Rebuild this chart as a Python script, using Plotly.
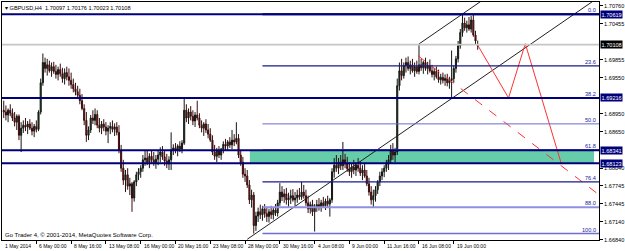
import plotly.graph_objects as go

# ---------------- data (GBPUSD H4, bars indexed from 1 May 2014 00:00) ----------------
bar_index = list(range(3, 222))

opens = [
    1.6901, 1.6898, 1.6893, 1.6901, 1.6896, 1.6888, 1.6881, 1.6891, 1.6859, 1.6871,
    1.6876, 1.6873, 1.6878, 1.6871, 1.6866, 1.6874, 1.6869, 1.6898, 1.6947, 1.6981,
    1.6971, 1.6977, 1.6967, 1.6974, 1.6966, 1.6961, 1.6969, 1.6962, 1.6954, 1.6964,
    1.6957, 1.6951, 1.6944, 1.6937, 1.6932, 1.6926, 1.6917, 1.6904, 1.6884, 1.6859,
    1.6868, 1.6888, 1.6884, 1.6894, 1.6876, 1.6871, 1.6878, 1.6873, 1.6866, 1.6871,
    1.6874, 1.6869, 1.6873, 1.6864, 1.6834, 1.6804, 1.6784, 1.6793, 1.6774, 1.6778,
    1.6754, 1.6781, 1.6793, 1.6798, 1.6804, 1.6818, 1.6821, 1.6814, 1.6824, 1.6818,
    1.6813, 1.6819, 1.6826, 1.6831, 1.6823, 1.6816, 1.6811, 1.6818, 1.6834, 1.6838,
    1.6834, 1.6841, 1.6836, 1.6846, 1.6901, 1.6888, 1.6898, 1.6891, 1.6883, 1.6893,
    1.6888, 1.6876, 1.6871, 1.6878, 1.6868, 1.6861, 1.6851, 1.6831, 1.6824, 1.6834,
    1.6826, 1.6836, 1.6844, 1.6841, 1.6848, 1.6843, 1.6851, 1.6848, 1.6854, 1.6826,
    1.6814, 1.6794, 1.6791, 1.6776, 1.6751, 1.6759, 1.6708, 1.6724, 1.6731, 1.6726,
    1.6736, 1.6728, 1.6723, 1.6731, 1.6726, 1.6734, 1.6729, 1.6746, 1.6764, 1.6756,
    1.6761, 1.6751, 1.6754, 1.6758, 1.6751, 1.6754, 1.6759, 1.6756, 1.6764, 1.6758,
    1.6746, 1.6736, 1.6743, 1.6731, 1.6739, 1.6743, 1.6738, 1.6746, 1.6741, 1.6749,
    1.6744, 1.6751, 1.6798, 1.6809, 1.6804, 1.6814, 1.6808, 1.6818, 1.6811, 1.6803,
    1.6798, 1.6806, 1.6801, 1.6809, 1.6804, 1.6796, 1.6801, 1.6791, 1.6778, 1.6764,
    1.6751, 1.6758, 1.6768, 1.6781, 1.6791, 1.6798, 1.6804, 1.6811, 1.6818, 1.6834,
    1.6826, 1.6831, 1.6942, 1.6967, 1.6959, 1.6976, 1.6981, 1.6971, 1.6977, 1.6967,
    1.6974, 1.6966, 1.6977, 1.6972, 1.6981, 1.6971, 1.6976, 1.6967, 1.6961, 1.6966,
    1.6957, 1.6952, 1.6956, 1.6951, 1.6954, 1.6947, 1.6951, 1.6954, 1.6971, 1.6987,
    1.7009, 1.7031, 1.7047, 1.7039, 1.7044, 1.7037, 1.7052, 1.7027, 1.70097,
]
highs = [
    1.6917, 1.6909, 1.6904, 1.6911, 1.6904, 1.6898, 1.6894, 1.6894, 1.6881, 1.6884,
    1.6888, 1.6883, 1.6886, 1.6881, 1.6878, 1.6884, 1.6901, 1.6954, 1.6996, 1.6989,
    1.6987, 1.6984, 1.6981, 1.6982, 1.6977, 1.6974, 1.6979, 1.6972, 1.6971, 1.6974,
    1.6971, 1.6964, 1.6954, 1.6947, 1.6942, 1.6937, 1.6928, 1.6911, 1.6898, 1.6874,
    1.6893, 1.6901, 1.6904, 1.6901, 1.6888, 1.6883, 1.6886, 1.6881, 1.6876, 1.6881,
    1.6884, 1.6879, 1.6881, 1.6876, 1.6843, 1.6818, 1.6801, 1.6804, 1.6788, 1.6781,
    1.6784, 1.6798, 1.6804, 1.6809, 1.6826, 1.6834, 1.6833, 1.6829, 1.6834, 1.6831,
    1.6826, 1.6834, 1.6839, 1.6841, 1.6834, 1.6828, 1.6824, 1.6864, 1.6844, 1.6846,
    1.6844, 1.6849, 1.6851, 1.6922, 1.6911, 1.6904, 1.6908, 1.6901, 1.6898, 1.6917,
    1.6896, 1.6884, 1.6881, 1.6886, 1.6878, 1.6871, 1.6859, 1.6843, 1.6838, 1.6841,
    1.6838, 1.6849, 1.6853, 1.6851, 1.6856, 1.6868, 1.6861, 1.6881, 1.6861, 1.6834,
    1.6823, 1.6804, 1.6801, 1.6784, 1.6768, 1.6764, 1.6731, 1.6738, 1.6743, 1.6741,
    1.6744, 1.6739, 1.6736, 1.6741, 1.6738, 1.6744, 1.6751, 1.6779, 1.6774, 1.6769,
    1.6771, 1.6763, 1.6768, 1.6769, 1.6764, 1.6768, 1.6771, 1.6781, 1.6776, 1.6768,
    1.6758, 1.6748, 1.6751, 1.6744, 1.6751, 1.6754, 1.6751, 1.6756, 1.6753, 1.6758,
    1.6754, 1.6804, 1.6821, 1.6826, 1.6821, 1.6826, 1.6848, 1.6828, 1.6823, 1.6814,
    1.6811, 1.6818, 1.6814, 1.6821, 1.6816, 1.6809, 1.6813, 1.6801, 1.6788, 1.6774,
    1.6768, 1.6774, 1.6784, 1.6798, 1.6804, 1.6809, 1.6818, 1.6826, 1.6843, 1.6846,
    1.6838, 1.6954, 1.6981, 1.6987, 1.6981, 1.6989, 1.6991, 1.6984, 1.6987, 1.6981,
    1.6984, 1.7012, 1.6987, 1.6984, 1.6989, 1.6982, 1.6986, 1.6977, 1.6972, 1.6974,
    1.6969, 1.6962, 1.6964, 1.6961, 1.6962, 1.6957, 1.7001, 1.6976, 1.6992, 1.7017,
    1.7037, 1.70619, 1.7056, 1.7051, 1.7057, 1.7059, 1.7061, 1.7034, 1.70176,
]
lows = [
    1.6888, 1.6884, 1.6881, 1.6891, 1.6883, 1.6874, 1.6868, 1.6851, 1.6831, 1.6863,
    1.6866, 1.6861, 1.6868, 1.6859, 1.6856, 1.6864, 1.6866, 1.6894, 1.6942, 1.6964,
    1.6959, 1.6964, 1.6957, 1.6962, 1.6954, 1.6951, 1.6957, 1.6947, 1.6944, 1.6951,
    1.6942, 1.6937, 1.6931, 1.6926, 1.6921, 1.6911, 1.6901, 1.6876, 1.6848, 1.6851,
    1.6863, 1.6878, 1.6876, 1.6871, 1.6864, 1.6861, 1.6866, 1.6859, 1.6846, 1.6861,
    1.6864, 1.6858, 1.6859, 1.6829, 1.6798, 1.6776, 1.6764, 1.6768, 1.6759, 1.6731,
    1.6748, 1.6774, 1.6784, 1.6788, 1.6798, 1.6808, 1.6809, 1.6804, 1.6811, 1.6808,
    1.6803, 1.6809, 1.6814, 1.6818, 1.6808, 1.6804, 1.6801, 1.6801, 1.6826, 1.6829,
    1.6824, 1.6831, 1.6829, 1.6843, 1.6881, 1.6878, 1.6884, 1.6876, 1.6873, 1.6884,
    1.6871, 1.6864, 1.6858, 1.6863, 1.6854, 1.6848, 1.6826, 1.6818, 1.6814, 1.6821,
    1.6818, 1.6829, 1.6834, 1.6833, 1.6838, 1.6836, 1.6841, 1.6844, 1.6821, 1.6808,
    1.6788, 1.6781, 1.6771, 1.6744, 1.6738, 1.66945, 1.6699, 1.6714, 1.6719, 1.6716,
    1.6721, 1.6714, 1.6713, 1.6719, 1.6718, 1.6724, 1.6723, 1.6741, 1.6749, 1.6746,
    1.6743, 1.6739, 1.6744, 1.6748, 1.6741, 1.6746, 1.6751, 1.6751, 1.6753, 1.6741,
    1.6729, 1.6728, 1.6724, 1.6698, 1.6731, 1.6733, 1.6731, 1.6738, 1.6734, 1.6739,
    1.6723, 1.6746, 1.6788, 1.6798, 1.6794, 1.6801, 1.6801, 1.6804, 1.6798, 1.6791,
    1.6788, 1.6794, 1.6791, 1.6798, 1.6791, 1.6784, 1.6788, 1.6774, 1.6758, 1.6743,
    1.6739, 1.6748, 1.6761, 1.6774, 1.6784, 1.6789, 1.6798, 1.6801, 1.6811, 1.6818,
    1.6814, 1.6826, 1.6934, 1.6951, 1.6954, 1.6964, 1.6967, 1.6961, 1.6964, 1.6957,
    1.6962, 1.6961, 1.6967, 1.6962, 1.6967, 1.6961, 1.6964, 1.6956, 1.6951, 1.6954,
    1.6947, 1.6944, 1.6946, 1.6942, 1.6941, 1.6937, 1.6922, 1.6947, 1.6964, 1.6981,
    1.7004, 1.7024, 1.7034, 1.7031, 1.7034, 1.7031, 1.7024, 1.7011, 1.70023,
]
closes = [
    1.6898, 1.6893, 1.6901, 1.6896, 1.6888, 1.6881, 1.6891, 1.6859, 1.6871, 1.6876,
    1.6873, 1.6878, 1.6871, 1.6866, 1.6874, 1.6869, 1.6898, 1.6947, 1.6981, 1.6971,
    1.6977, 1.6967, 1.6974, 1.6966, 1.6961, 1.6969, 1.6962, 1.6954, 1.6964, 1.6957,
    1.6951, 1.6944, 1.6937, 1.6932, 1.6926, 1.6917, 1.6904, 1.6884, 1.6859, 1.6868,
    1.6888, 1.6884, 1.6894, 1.6876, 1.6871, 1.6878, 1.6873, 1.6866, 1.6871, 1.6874,
    1.6869, 1.6873, 1.6864, 1.6834, 1.6804, 1.6784, 1.6793, 1.6774, 1.6778, 1.6754,
    1.6781, 1.6793, 1.6798, 1.6804, 1.6818, 1.6821, 1.6814, 1.6824, 1.6818, 1.6813,
    1.6819, 1.6826, 1.6831, 1.6823, 1.6816, 1.6811, 1.6818, 1.6834, 1.6838, 1.6834,
    1.6841, 1.6836, 1.6846, 1.6901, 1.6888, 1.6898, 1.6891, 1.6883, 1.6893, 1.6888,
    1.6876, 1.6871, 1.6878, 1.6868, 1.6861, 1.6851, 1.6831, 1.6824, 1.6834, 1.6826,
    1.6836, 1.6844, 1.6841, 1.6848, 1.6843, 1.6851, 1.6848, 1.6854, 1.6826, 1.6814,
    1.6794, 1.6791, 1.6776, 1.6751, 1.6759, 1.6708, 1.6724, 1.6731, 1.6726, 1.6736,
    1.6728, 1.6723, 1.6731, 1.6726, 1.6734, 1.6729, 1.6746, 1.6764, 1.6756, 1.6761,
    1.6751, 1.6754, 1.6758, 1.6751, 1.6754, 1.6759, 1.6756, 1.6764, 1.6758, 1.6746,
    1.6736, 1.6743, 1.6731, 1.6739, 1.6743, 1.6738, 1.6746, 1.6741, 1.6749, 1.6744,
    1.6751, 1.6798, 1.6809, 1.6804, 1.6814, 1.6808, 1.6818, 1.6811, 1.6803, 1.6798,
    1.6806, 1.6801, 1.6809, 1.6804, 1.6796, 1.6801, 1.6791, 1.6778, 1.6764, 1.6751,
    1.6758, 1.6768, 1.6781, 1.6791, 1.6798, 1.6804, 1.6811, 1.6818, 1.6834, 1.6826,
    1.6831, 1.6942, 1.6967, 1.6959, 1.6976, 1.6981, 1.6971, 1.6977, 1.6967, 1.6974,
    1.6966, 1.6977, 1.6972, 1.6981, 1.6971, 1.6976, 1.6967, 1.6961, 1.6966, 1.6957,
    1.6952, 1.6956, 1.6951, 1.6954, 1.6947, 1.6951, 1.6954, 1.6971, 1.6987, 1.7009,
    1.7031, 1.7047, 1.7039, 1.7044, 1.7037, 1.7052, 1.7027, 1.7017, 1.70108,
]

title_text = "GBPUSD,H4  1.70097 1.70176 1.70023 1.70108"
copyright_text = "Go Trader 4, \u00a9 2001-2014, MetaQuotes Software Corp."

x_first_label = "1 May 2014"
x_tick_index = [18, 34, 50, 66, 82, 98, 114, 130, 146, 162, 178, 194, 210]
x_tick_text = ["6 May 00:00", "8 May 16:00", "13 May 08:00", "16 May 00:00",
               "20 May 16:00", "23 May 08:00", "28 May 00:00", "30 May 16:00",
               "4 Jun 08:00", "9 Jun 00:00", "11 Jun 16:00", "16 Jun 08:00",
               "19 Jun 00:00"]
y_tick_vals = [1.70760, 1.70455, 1.69855, 1.69550, 1.68950, 1.68650,
               1.68040, 1.67745, 1.67445, 1.67140, 1.66840]

# horizontal support / resistance lines (full width) and their price tags
hline_prices = [1.70619, 1.69216, 1.68341, 1.68123]
bid_price = 1.70108

# Fibonacci retracement (from swing high to swing low)
fib_high = 1.70619
fib_low = 1.66945
fib_start_bar = 122
fib_levels = [0.0, 23.6, 38.2, 50.0, 61.8, 76.4, 88.0, 100.0]
fib_colors = ["#00007a", "#1a1a8a", "#00007a", "#6a6ad2", "#8c8ce0",
              "#1a1a8a", "#9090e0", "#6e6ed4"]
fib_widths = [2, 1.3, 2, 1, 1.5, 1.3, 2, 1.5]

# demand zone rectangle
zone_x = [116.2, 274.5]
zone_y = [1.68123, 1.68341]

# channel (two parallel rays)
channel_low_x = [115.0, 280.0]
channel_low_y = [1.66850, 1.70985]
channel_up_x = [194.0, 230.0]
channel_up_y = [1.70120, 1.71022]

# projected path (solid red) and dashed red ray
proj_x = [221.0, 235.2, 242.9, 259.4]
proj_y = [1.70100, 1.69216, 1.70124, 1.68123]
dash_x = [193.5, 280.0]
dash_y = [1.69924, 1.67505]

# ---------------- figure ----------------
FONT = "Liberation Sans"
FS = 5.6
FSX = 5.0
x_range = [2.2, 276.8]
y_range = [1.66838, 1.70822]

fig = go.Figure()

fig.add_shape(type="rect", xref="x", yref="y", x0=zone_x[0], x1=zone_x[1],
              y0=zone_y[0], y1=zone_y[1], fillcolor="#66cdaa",
              line=dict(width=0), layer="below")

fig.add_trace(go.Candlestick(
    x=bar_index, open=opens, high=highs, low=lows, close=closes,
    increasing=dict(line=dict(color="#151515", width=1), fillcolor="#0f5a0f"),
    decreasing=dict(line=dict(color="#3a0c0c", width=1), fillcolor="#8b1a1a"),
    whiskerwidth=0, hoverinfo="skip", showlegend=False))

# bid line
fig.add_shape(type="line", xref="paper", yref="y", x0=0, x1=1,
              y0=bid_price, y1=bid_price, line=dict(color="#c6c6c6", width=1.6))

# fib lines
fib_range = fib_high - fib_low
for lvl, col, w in zip(fib_levels, fib_colors, fib_widths):
    p = fib_high - lvl / 100.0 * fib_range
    fig.add_shape(type="line", xref="x", yref="y", x0=fib_start_bar, x1=x_range[1],
                  y0=p, y1=p, line=dict(color=col, width=w))
    fig.add_annotation(x=1, xref="paper", y=p, yref="y", text=f"{lvl:.1f}",
                       showarrow=False, xanchor="right", yanchor="bottom",
                       xshift=-1, yshift=-1,
                       font=dict(family=FONT, size=FS, color="#20209a"))

# full-width horizontal lines
for p in hline_prices:
    fig.add_shape(type="line", xref="paper", yref="y", x0=0, x1=1,
                  y0=p, y1=p, line=dict(color="#00007a", width=2))

# channel lines
fig.add_trace(go.Scatter(x=channel_low_x, y=channel_low_y, mode="lines",
                         line=dict(color="#202020", width=1), hoverinfo="skip"))
fig.add_trace(go.Scatter(x=channel_up_x, y=channel_up_y, mode="lines",
                         line=dict(color="#202020", width=1), hoverinfo="skip"))
# red projections
fig.add_trace(go.Scatter(x=proj_x, y=proj_y, mode="lines",
                         line=dict(color="#ff3030", width=1), hoverinfo="skip"))
fig.add_trace(go.Scatter(x=dash_x, y=dash_y, mode="lines",
                         line=dict(color="#ff3030", width=1, dash="dash"),
                         hoverinfo="skip"))

# price tags on right axis
for p in hline_prices:
    fig.add_annotation(x=1, xref="paper", y=p, yref="y", text=f"{p:.5f}",
                       showarrow=False, xanchor="left", yanchor="middle", xshift=1,
                       bgcolor="#00007a", borderpad=0.5,
                       font=dict(family=FONT, size=FS, color="white"))
fig.add_annotation(x=1, xref="paper", y=bid_price, yref="y", text=f"{bid_price:.5f}",
                   showarrow=False, xanchor="left", yanchor="middle", xshift=1,
                   bgcolor="#000000", borderpad=0.5,
                   font=dict(family=FONT, size=FS, color="white"))

# x labels (left anchored at tick)
fig.add_annotation(x=0, xref="paper", y=0, yref="paper", text=x_first_label,
                   showarrow=False, xanchor="left", yanchor="top", xshift=1, yshift=-1,
                   font=dict(family=FONT, size=FSX, color="black"))
for xi, t in zip(x_tick_index, x_tick_text):
    fig.add_annotation(x=xi, xref="x", y=0, yref="paper", text=t,
                       showarrow=False, xanchor="left", yanchor="top", xshift=1, yshift=-1,
                       font=dict(family=FONT, size=FSX, color="black"))

# title and copyright
fig.add_annotation(x=0, xref="paper", y=1, yref="paper", text="\u25be " + title_text,
                   showarrow=False, xanchor="left", yanchor="top", xshift=1, yshift=-1,
                   font=dict(family=FONT, size=FS, color="black"))
fig.add_annotation(x=0, xref="paper", y=0, yref="paper", text=copyright_text,
                   showarrow=False, xanchor="left", yanchor="bottom", xshift=1, yshift=0,
                   font=dict(family=FONT, size=6.0, color="black"))

fig.update_layout(
    width=625, height=251, margin=dict(l=2, r=23, t=1, b=11),
    paper_bgcolor="white", plot_bgcolor="white", showlegend=False,
    xaxis=dict(range=x_range, rangeslider=dict(visible=False), showgrid=False,
               zeroline=False, showline=True, mirror=True, linecolor="black",
               linewidth=1, tickvals=x_tick_index, ticktext=[""] * len(x_tick_index),
               ticks="outside", ticklen=3, tickcolor="black"),
    yaxis=dict(side="right", range=y_range, tickvals=y_tick_vals,
               ticktext=[f"{v:.5f}" for v in y_tick_vals], ticks="outside",
               ticklen=3, tickcolor="black", showgrid=False, zeroline=False,
               showline=True, mirror=True, linecolor="black", linewidth=1,
               tickfont=dict(family=FONT, size=FS, color="black")),
)

fig.write_html("out.html")
